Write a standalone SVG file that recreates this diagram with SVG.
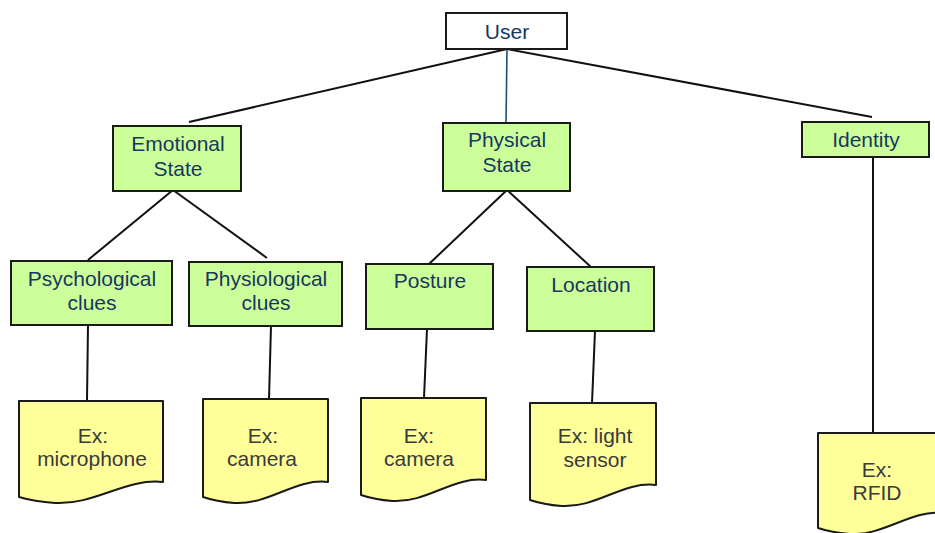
<svg xmlns="http://www.w3.org/2000/svg" width="935" height="533" viewBox="0 0 935 533">
<style>
  .box { fill: #ccff99; stroke: #1a1a1a; stroke-width: 2; }
  .root { fill: #ffffff; stroke: #1a1a1a; stroke-width: 2; }
  .doc { fill: #ffff99; stroke: #1a1a1a; stroke-width: 2; stroke-linejoin: round; }
  .lbl { font-family: "Liberation Sans", Arial, sans-serif; font-size: 21px; fill: #17375e; text-anchor: middle; }
  .dlbl { font-family: "Liberation Sans", Arial, sans-serif; font-size: 21px; fill: #3a3a3a; text-anchor: middle; }
  .con { stroke: #111111; stroke-width: 2; fill: none; }
  .con-blue { stroke: #1f4e79; stroke-width: 1.6; fill: none; }
</style>
<rect width="935" height="533" fill="#ffffff"/>
<g id="connectors">
  <line class="con" x1="507" y1="49" x2="189" y2="122"/>
  <line class="con-blue" x1="507" y1="49" x2="506" y2="123"/>
  <line class="con" x1="507" y1="49" x2="872" y2="117"/>
  <line class="con" x1="173" y1="190" x2="88" y2="260"/>
  <line class="con" x1="173" y1="190" x2="267" y2="258"/>
  <line class="con" x1="507" y1="190" x2="429" y2="264"/>
  <line class="con" x1="507" y1="190" x2="591" y2="267"/>
  <line class="con" x1="88" y1="325" x2="87" y2="401"/>
  <line class="con" x1="271" y1="326" x2="269" y2="399"/>
  <line class="con" x1="427" y1="329" x2="424" y2="398"/>
  <line class="con" x1="595" y1="331" x2="592" y2="403"/>
  <line class="con" x1="873" y1="157" x2="873" y2="433"/>
</g>
<g id="user">
  <rect class="root" x="446" y="13" width="121" height="36"/>
  <text class="lbl" x="507" y="39">User</text>
</g>
<g id="emotional-state">
  <rect class="box" x="113" y="126" width="128" height="65"/>
  <text class="lbl" x="178" y="151">Emotional</text>
  <text class="lbl" x="178" y="176">State</text>
</g>
<g id="physical-state">
  <rect class="box" x="443" y="123" width="127" height="68"/>
  <text class="lbl" x="507" y="147">Physical</text>
  <text class="lbl" x="507" y="172">State</text>
</g>
<g id="identity">
  <rect class="box" x="802" y="122" width="127" height="35"/>
  <text class="lbl" x="866" y="147">Identity</text>
</g>
<g id="psychological-clues">
  <rect class="box" x="11" y="261" width="161" height="64"/>
  <text class="lbl" x="92" y="286">Psychological</text>
  <text class="lbl" x="92" y="310">clues</text>
</g>
<g id="physiological-clues">
  <rect class="box" x="189" y="262" width="153" height="64"/>
  <text class="lbl" x="266" y="286">Physiological</text>
  <text class="lbl" x="266" y="310">clues</text>
</g>
<g id="posture">
  <rect class="box" x="366" y="264" width="127" height="65"/>
  <text class="lbl" x="430" y="288">Posture</text>
</g>
<g id="location">
  <rect class="box" x="527" y="267" width="127" height="64"/>
  <text class="lbl" x="591" y="292">Location</text>
</g>
<g id="ex-microphone">
  <path class="doc" d="M19,401 H163 V482 C125.6,478 95.3,505 55,503 C40.6,502 29,500 19,497 Z"/>
  <text class="dlbl" x="93" y="443">Ex:</text>
  <text class="dlbl" x="92" y="466">microphone</text>
</g>
<g id="ex-camera-1">
  <path class="doc" d="M203,399 H328 V482 C295.5,478 269.3,505 234.3,503 C221.8,502 211.8,500 203,497 Z"/>
  <text class="dlbl" x="263" y="443">Ex:</text>
  <text class="dlbl" x="262" y="466">camera</text>
</g>
<g id="ex-camera-2">
  <path class="doc" d="M361,398 H486 V480 C453.5,476 427.3,503 392.3,501 C379.8,500 369.8,498 361,495 Z"/>
  <text class="dlbl" x="419" y="443">Ex:</text>
  <text class="dlbl" x="419" y="466">camera</text>
</g>
<g id="ex-light-sensor">
  <path class="doc" d="M530,403 H656 V485 C623.2,481 596.8,508 561.5,506 C548.9,505 538.8,503 530,500 Z"/>
  <text class="dlbl" x="595" y="443">Ex: light</text>
  <text class="dlbl" x="595" y="467">sensor</text>
</g>
<g id="ex-rfid">
  <path class="doc" d="M818,433 H944 V513 C911.2,509 884.8,536 849.5,534 C836.9,533 826.8,531 818,528 Z"/>
  <text class="dlbl" x="877" y="477">Ex:</text>
  <text class="dlbl" x="877" y="500">RFID</text>
</g>
</svg>
